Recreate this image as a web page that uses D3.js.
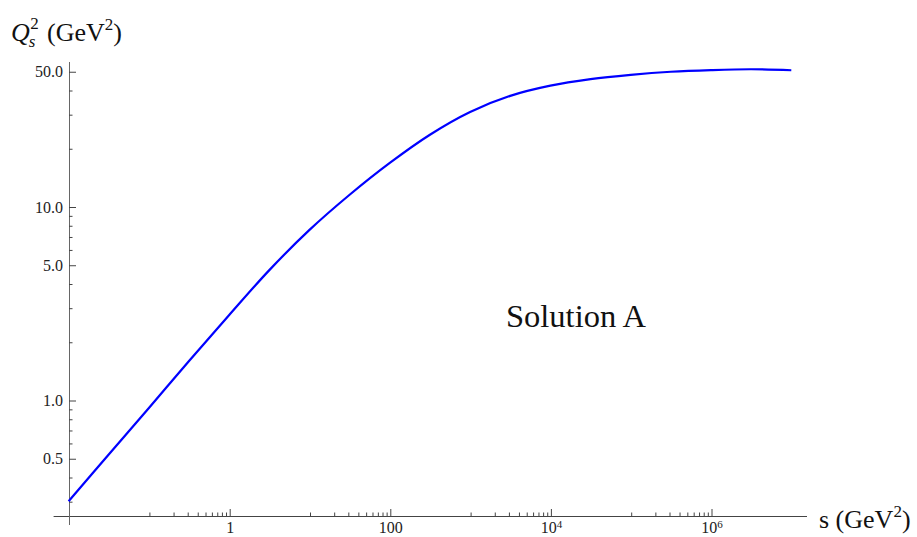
<!DOCTYPE html>
<html>
<head>
<meta charset="utf-8">
<script src="https://cdn.jsdelivr.net/npm/d3@7"></script>
<style>
  html, body { margin: 0; padding: 0; background: #fff; }
  svg { display: block; font-family: "Liberation Serif", "Times New Roman", serif; }
</style>
</head>
<body>
<svg id="chart" width="917" height="537"></svg>
<script>
// Saturation scale Q_s^2 versus energy squared s (log-log)
const sValues  = [0.01, 0.0316, 0.1, 0.316, 1, 3.16, 10, 31.6, 100, 316,
                  1e3, 3162, 1e4, 31623, 1e5, 316228, 1e6, 3162278, 1e7];
const q2Values = [0.300, 0.523, 0.910, 1.59, 2.75, 4.69, 7.57, 11.5, 16.8, 23.5,
                  30.8, 37.3, 42.1, 45.5, 47.9, 49.7, 50.7, 51.2, 50.6];

const xMajorTicks = [1, 100, 1e4, 1e6];
const xMinorTicks = [0.1, 0.2, 0.3, 0.4, 0.5, 0.6, 0.7, 0.8, 0.9,
                     10, 20, 30, 40, 50, 60, 70, 80, 90,
                     1e3, 2e3, 3e3, 4e3, 5e3, 6e3, 7e3, 8e3, 9e3,
                     1e5, 2e5, 3e5, 4e5, 5e5, 6e5, 7e5, 8e5, 9e5];
const yMajorTicks = [0.5, 1, 5, 10, 50];
const yMinorTicks = [0.3, 0.4, 0.6, 0.7, 0.8, 0.9, 2, 3, 4, 6, 7, 8, 9, 20, 30, 40];

const xAxisLabel = "s (GeV";
const yAxisLabel = "(GeV";
const annotation = "Solution A";

const svg = d3.select("#chart");

const x = d3.scaleLog().domain([0.01, 1e6]).range([68.6, 711]);
const y = d3.scaleLog().domain([1, 10]).range([400, 206.5]);

const axisColor = "#444";
const xAxisY = 516;
const yAxisX = x(0.01);

// Axis lines (crossing axes, x axis runs a little past the origin)
svg.append("line")
  .attr("x1", yAxisX - 15).attr("x2", 807)
  .attr("y1", xAxisY + 0.5).attr("y2", xAxisY + 0.5)
  .attr("stroke", axisColor).attr("stroke-width", 1);
svg.append("line")
  .attr("x1", Math.round(yAxisX) + 0.5).attr("x2", Math.round(yAxisX) + 0.5)
  .attr("y1", 62).attr("y2", 525)
  .attr("stroke", "#666").attr("stroke-width", 1);

// X axis: minor ticks
const gxMinor = svg.append("g").attr("transform", `translate(0.5,${xAxisY})`)
  .call(d3.axisBottom(x).tickValues(xMinorTicks).tickFormat("").tickSizeInner(-3.5).tickSizeOuter(0));
// X axis: major ticks with labels (powers of ten from 10^4 on)
const gxMajor = svg.append("g").attr("transform", `translate(0.5,${xAxisY})`)
  .call(d3.axisBottom(x).tickValues(xMajorTicks).tickSizeInner(-7).tickSizeOuter(0).tickPadding(5.5)
    .tickFormat(d => d));

// Y axis: minor ticks
const gyMinor = svg.append("g").attr("transform", `translate(${Math.round(yAxisX)},0.5)`)
  .call(d3.axisLeft(y).tickValues(yMinorTicks).tickFormat("").tickSizeInner(-3.5).tickSizeOuter(0));
// Y axis: major ticks with labels
const gyMajor = svg.append("g").attr("transform", `translate(${Math.round(yAxisX)},0.5)`)
  .call(d3.axisLeft(y).tickValues(yMajorTicks).tickSizeInner(-7).tickSizeOuter(0).tickPadding(6)
    .tickFormat(d3.format(".1f")));

[gxMinor, gxMajor, gyMinor, gyMajor].forEach(g => {
  g.select(".domain").remove();
  g.selectAll(".tick line").attr("stroke", axisColor);
  g.selectAll(".tick text")
    .attr("fill", "#222")
    .style("font-family", "'Liberation Serif', 'Times New Roman', serif")
    .style("font-size", "16px");
});

gxMajor.selectAll(".tick text").each(function(d) {
  const t = d3.select(this);
  const e = Math.round(Math.log10(d));
  t.text(null);
  if (e >= 4) {
    t.append("tspan").text("10");
    t.append("tspan").attr("dy", "-0.45em").style("font-size", "11px").text(String(e));
  } else {
    t.text(String(d));
  }
});

// Curve
const line = d3.line()
  .x((d, i) => x(sValues[i]))
  .y(d => y(d))
  .curve(d3.curveCatmullRom.alpha(0.5));

svg.append("path")
  .datum(q2Values)
  .attr("d", line)
  .attr("fill", "none")
  .attr("stroke", "#0000ff")
  .attr("stroke-width", 2.2)
  .attr("stroke-linejoin", "round");

// Y axis title: Q_s^2 (GeV^2)
const labelFont = 26;
const qText = svg.append("text")
  .attr("x", 11).attr("y", 41)
  .style("font-size", labelFont + "px").style("font-style", "italic")
  .attr("fill", "#111").text("Q");
const qW = qText.node().getComputedTextLength();
svg.append("text").attr("x", 11 + qW + 0.5).attr("y", 29)
  .style("font-size", "17px").attr("fill", "#111").text("2");
svg.append("text").attr("x", 11 + qW - 1).attr("y", 47)
  .style("font-size", "17px").style("font-style", "italic").attr("fill", "#111").text("s");
const yl = svg.append("text").attr("x", 47).attr("y", 41)
  .style("font-size", labelFont + "px").attr("fill", "#111");
yl.append("tspan").text(yAxisLabel);
yl.append("tspan").attr("dy", -11).style("font-size", "17px").text("2");
yl.append("tspan").attr("dy", 11).text(")");

// X axis title: s (GeV^2)
const xl = svg.append("text").attr("x", 819).attr("y", 528)
  .style("font-size", labelFont + "px").attr("fill", "#111");
xl.append("tspan").text(xAxisLabel);
xl.append("tspan").attr("dy", -11).style("font-size", "17px").text("2");
xl.append("tspan").attr("dy", 11).text(")");

// Annotation
svg.append("text").attr("x", 506).attr("y", 327)
  .style("font-size", "32.5px").attr("fill", "#111").text(annotation);
</script>
</body>
</html>
